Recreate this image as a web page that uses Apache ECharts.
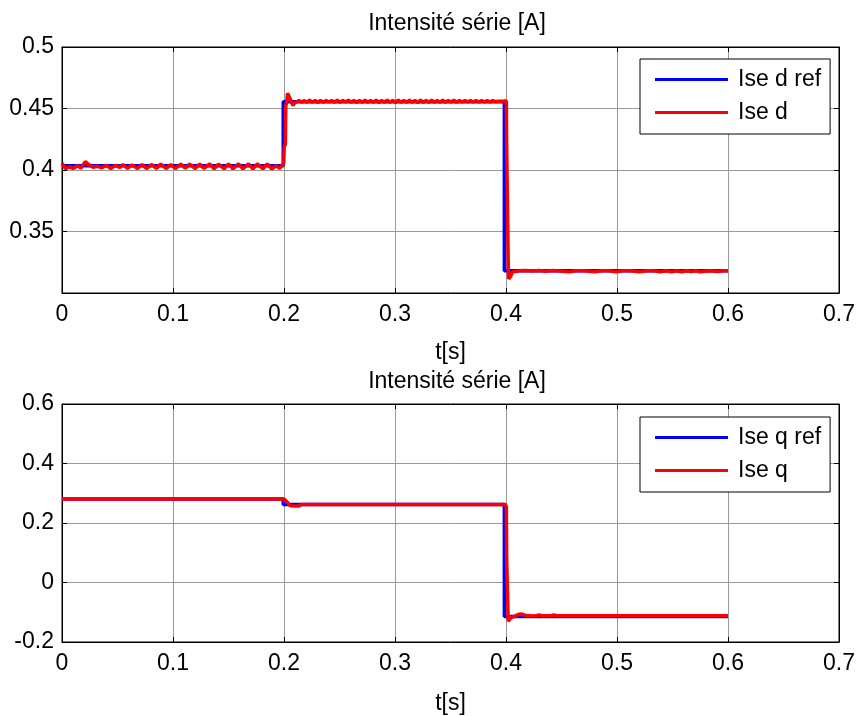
<!DOCTYPE html>
<html>
<head>
<meta charset="utf-8">
<script src="https://cdn.jsdelivr.net/npm/echarts@6/dist/echarts.min.js"></script>
<style>html,body{margin:0;padding:0;background:#fff;}#c{width:858px;height:716px;}</style>
</head>
<body>
<div id="c"></div>
<script>
// ---- data ----
const titleText = 'Intensité série [A]';
const xTicks = [0, 0.1, 0.2, 0.3, 0.4, 0.5, 0.6, 0.7];
const yTicksD = [0.35, 0.4, 0.45, 0.5];
const yTicksQ = [-0.2, 0, 0.2, 0.4, 0.6];
const legendD = ['Ise d ref', 'Ise d'];
const legendQ = ['Ise q ref', 'Ise q'];

const iseDRef = [[0,0.4035],[0.1993,0.4035],[0.1993,0.4555],[0.3985,0.4555],[0.3985,0.318],[0.6,0.318]];

const iseD = [
[0,0.4055],[0.003,0.4012],[0.007,0.4025],[0.010,0.4012],[0.014,0.4035],[0.017,0.4015],[0.021,0.4068],[0.024,0.4045],
[0.028,0.4022],[0.032,0.403],[0.036,0.4018],[0.040,0.4038],[0.044,0.4012],[0.048,0.4038],[0.052,0.402],[0.055,0.4045],
[0.059,0.4012],[0.063,0.4042],[0.068,0.4012],[0.072,0.4045],[0.076,0.4012],[0.081,0.4045],[0.085,0.4012],[0.089,0.4048],
[0.094,0.4012],[0.098,0.4045],[0.102,0.4012],[0.107,0.4048],[0.111,0.4015],[0.115,0.4048],[0.120,0.4012],[0.124,0.4048],
[0.128,0.4012],[0.133,0.405],[0.137,0.401],[0.141,0.4048],[0.146,0.401],[0.150,0.405],[0.154,0.401],[0.159,0.405],
[0.163,0.401],[0.168,0.405],[0.172,0.401],[0.176,0.405],[0.181,0.401],[0.185,0.405],[0.189,0.401],[0.193,0.4035],
[0.196,0.4012],[0.1985,0.404],[0.1998,0.406],[0.2002,0.419],[0.2012,0.421],[0.2016,0.452],[0.2025,0.4555],[0.2032,0.4625],
[0.2045,0.4635],[0.2055,0.458],[0.207,0.4565],[0.208,0.4525],[0.2095,0.4545],
[0.2115,0.4555],[0.2135,0.4565],[0.216,0.455],[0.218,0.4565],[0.2205,0.455],[0.223,0.4568],[0.2255,0.455],[0.228,0.4565],
[0.2305,0.4548],[0.233,0.4565],[0.2355,0.455],[0.238,0.4565],[0.2405,0.4552],[0.243,0.4565],[0.2455,0.455],[0.248,0.4568],
[0.2505,0.455],[0.253,0.4565],[0.2555,0.4552],[0.258,0.4568],[0.2605,0.455],[0.263,0.4565],[0.2655,0.4548],[0.268,0.4565],
[0.2705,0.455],[0.273,0.4568],[0.2755,0.455],[0.278,0.4565],[0.2805,0.455],[0.283,0.4568],[0.2855,0.4548],[0.288,0.4565],
[0.2905,0.455],[0.293,0.4568],[0.2955,0.455],[0.298,0.4565],[0.3005,0.4548],[0.303,0.4568],[0.3055,0.455],[0.308,0.4565],
[0.3105,0.455],[0.313,0.4568],[0.3155,0.455],[0.318,0.4566],[0.3205,0.4548],[0.323,0.4568],[0.3255,0.455],[0.328,0.4566],
[0.3305,0.4549],[0.333,0.4568],[0.3355,0.455],[0.338,0.4566],[0.3405,0.455],[0.343,0.4568],[0.3455,0.455],[0.348,0.4565],
[0.3505,0.4552],[0.353,0.4567],[0.3555,0.455],[0.358,0.4565],[0.3605,0.4552],[0.363,0.4566],[0.3655,0.4552],[0.368,0.4565],
[0.3705,0.4552],[0.373,0.4565],[0.3755,0.4553],[0.378,0.4565],[0.3805,0.4553],[0.383,0.4565],[0.3855,0.4553],[0.388,0.4564],
[0.3905,0.4555],[0.393,0.456],[0.3955,0.4558],[0.398,0.456],[0.4003,0.456],
[0.4006,0.4195],[0.4018,0.4185],[0.4021,0.318],[0.4025,0.3115],[0.4035,0.3105],[0.4045,0.314],[0.4055,0.317],[0.407,0.3185],
[0.412,0.318],[0.418,0.3183],[0.424,0.3178],[0.430,0.3183],[0.436,0.3177],[0.442,0.3182],[0.448,0.3179],[0.4575,0.3172],
[0.462,0.3181],[0.470,0.318],[0.480,0.3172],[0.486,0.3181],[0.493,0.318],[0.499,0.3172],[0.505,0.3181],[0.512,0.318],
[0.520,0.3172],[0.527,0.3181],[0.533,0.318],[0.539,0.3172],[0.544,0.3181],[0.549,0.3173],[0.554,0.3181],[0.558,0.3173],
[0.563,0.3181],[0.567,0.3174],[0.571,0.3181],[0.575,0.3173],[0.583,0.3181],[0.591,0.3174],[0.596,0.3181],[0.6,0.318]
];

const iseQRef = [[0,0.281],[0.1993,0.281],[0.1993,0.262],[0.3985,0.262],[0.3985,-0.114],[0.6,-0.114]];

const iseQ = [
[0,0.281],[0.0175,0.281],[0.019,0.287],[0.0205,0.281],[0.2,0.281],[0.2015,0.279],[0.203,0.27],[0.2055,0.258],
[0.21,0.257],[0.2135,0.2575],[0.2155,0.262],[0.3995,0.262],[0.4003,0.255],[0.4006,0.076],[0.4018,0.074],[0.402,-0.13],
[0.4028,-0.131],[0.4045,-0.118],[0.408,-0.113],[0.4115,-0.107],[0.4145,-0.106],[0.418,-0.111],[0.425,-0.113],[0.43,-0.109],
[0.433,-0.112],[0.44,-0.112],[0.443,-0.109],[0.446,-0.112],[0.6,-0.112]
];

// ---- chart ----
const FONT = 'Liberation Sans, Arial, sans-serif';
const FS = 23;
const fmt = v => { const r = Math.round(v * 1000) / 1000; return String(r); };
const fmtD = v => (Math.abs(v - 0.3) < 1e-9 ? '' : fmt(v));

function mainX(gi, gap) {
  return {
    type: 'value', gridIndex: gi, position: 'bottom', min: xTicks[0], max: xTicks[xTicks.length - 1], interval: 0.1,
    name: 't[s]', nameLocation: 'middle', nameGap: gap,
    nameTextStyle: { fontFamily: FONT, fontSize: FS, color: '#000' },
    axisLine: { show: true, onZero: false, lineStyle: { color: '#000', width: 1 } },
    axisTick: { show: true, inside: true, length: 5, lineStyle: { color: '#000' } },
    axisLabel: { fontFamily: FONT, fontSize: FS, color: '#000', margin: 10, formatter: fmt },
    splitLine: { show: true, lineStyle: { color: '#999', width: 1 } }
  };
}
function topX(gi) {
  return {
    type: 'value', gridIndex: gi, position: 'top', min: 0, max: 0.7, interval: 0.1,
    axisLine: { show: true, onZero: false, lineStyle: { color: '#000', width: 1 } },
    axisTick: { show: true, inside: true, length: 5, lineStyle: { color: '#000' } },
    axisLabel: { show: false }, splitLine: { show: false }
  };
}
function mainY(gi, min, max, interval, f) {
  return {
    type: 'value', gridIndex: gi, position: 'left', min, max, interval,
    axisLine: { show: true, onZero: false, lineStyle: { color: '#000', width: 1 } },
    axisTick: { show: true, inside: true, length: 5, lineStyle: { color: '#000' } },
    axisLabel: { fontFamily: FONT, fontSize: FS, color: '#000', margin: 8, formatter: f },
    splitLine: { show: true, lineStyle: { color: '#999', width: 1 } }
  };
}
function rightY(gi, min, max, interval) {
  return {
    type: 'value', gridIndex: gi, position: 'right', min, max, interval,
    axisLine: { show: true, onZero: false, lineStyle: { color: '#000', width: 1 } },
    axisTick: { show: true, inside: true, length: 5, lineStyle: { color: '#000' } },
    axisLabel: { show: false }, splitLine: { show: false }
  };
}
function line(name, data, color, xi, yi) {
  return {
    type: 'line', name, data, xAxisIndex: xi, yAxisIndex: yi, showSymbol: false, symbol: 'none',
    lineStyle: { color, width: 3.5 }, itemStyle: { color }, animation: false, z: color === '#ff0000' ? 3 : 2
  };
}
function legend(data, top) {
  return {
    data, left: 640, top, orient: 'vertical', icon: 'rect', itemWidth: 73, itemHeight: 3, itemGap: 10,
    padding: [9, 9, 10, 15], borderColor: '#000', borderWidth: 1, backgroundColor: '#fff', borderRadius: 0,
    textStyle: { fontFamily: FONT, fontSize: FS, color: '#000', lineHeight: 23, padding: [0, 0, 0, 5] },
    selectedMode: false
  };
}

const chart = echarts.init(document.getElementById('c'), null, { renderer: 'canvas' });
chart.setOption({
  animation: false,
  backgroundColor: '#fff',
  title: [
    { text: titleText, left: 452, textAlign: 'center', top: 7, textStyle: { fontFamily: FONT, fontSize: FS, fontWeight: 'normal', color: '#000' } },
    { text: titleText, left: 452, textAlign: 'center', top: 365, textStyle: { fontFamily: FONT, fontSize: FS, fontWeight: 'normal', color: '#000' } }
  ],
  grid: [
    { left: 62, top: 47, width: 780, height: 246, show: true, borderColor: '#000', borderWidth: 1, backgroundColor: '#fff' },
    { left: 62, top: 404, width: 780, height: 247, show: true, borderColor: '#000', borderWidth: 1, backgroundColor: '#fff' }
  ],
  xAxis: [mainX(0, 48), topX(0), mainX(1, 50), topX(1)],
  yAxis: [
    mainY(0, 0.3, 0.5, 0.05, fmtD), rightY(0, 0.3, 0.5, 0.05),
    mainY(1, -0.2, 0.6, 0.2, fmt), rightY(1, -0.2, 0.6, 0.2)
  ],
  legend: [legend(legendD, 59), legend(legendQ, 417)],
  series: [
    line(legendD[0], iseDRef, '#0000ff', 0, 0),
    line(legendD[1], iseD, '#ff0000', 0, 0),
    line(legendQ[0], iseQRef, '#0000ff', 2, 2),
    line(legendQ[1], iseQ, '#ff0000', 2, 2)
  ]
});
</script>
</body>
</html>
